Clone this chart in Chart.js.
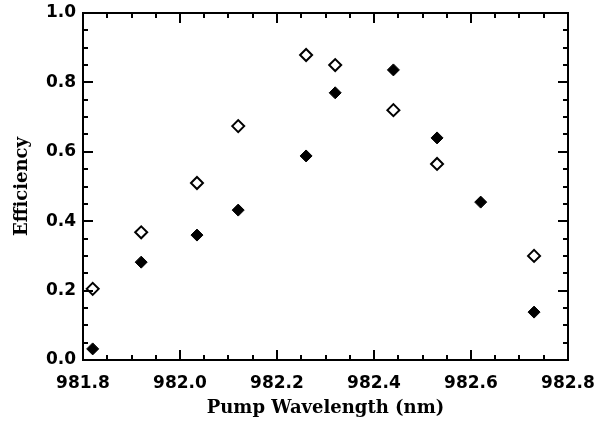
<!DOCTYPE html>
<html>
<head>
<meta charset="utf-8">
<script src="https://cdn.jsdelivr.net/npm/chart.js@4.4.1/dist/chart.umd.min.js"></script>
<style>
  html, body { margin: 0; padding: 0; background: #fff; }
  canvas { display: block; }
</style>
</head>
<body>
<canvas id="chart" width="602" height="422"></canvas>
<script>
// pump wavelength (nm) for each measurement
const wavelengths = [981.82, 981.92, 982.035, 982.12, 982.26, 982.32, 982.44, 982.53, 982.62, 982.73];
// open diamonds (none visible at 982.62)
const openEff = [0.205, 0.368, 0.51, 0.674, 0.879, 0.850, 0.720, 0.565, null, 0.300];
// filled diamonds
const filledEff = [0.032, 0.282, 0.36, 0.432, 0.588, 0.770, 0.836, 0.640, 0.455, 0.138];

const X_MIN = 981.8, X_MAX = 982.8;
const Y_MIN = 0, Y_MAX = 1.0;

const toPoints = (vals) => wavelengths.map((w, i) => ({ x: w, y: vals[i] }));

// IDL style frame: box on all four sides, ticks pointing inward
const frameTicks = {
  id: "frameTicks",
  afterDatasetsDraw(chart) {
    const { ctx, chartArea: a, scales: { x, y } } = chart;
    ctx.save();
    ctx.strokeStyle = "#000";
    ctx.lineWidth = 2;
    ctx.strokeRect(a.left, a.top, a.right - a.left, a.bottom - a.top);
    ctx.beginPath();
    for (let i = 0; i <= 20; i++) {
      const px = Math.round(x.getPixelForValue(X_MIN + i * 0.05));
      const len = i % 4 === 0 ? 10 : 5;
      ctx.moveTo(px, a.bottom); ctx.lineTo(px, a.bottom - len);
      ctx.moveTo(px, a.top); ctx.lineTo(px, a.top + len);
    }
    for (let i = 0; i <= 20; i++) {
      const py = Math.round(y.getPixelForValue(Y_MIN + i * 0.05));
      const len = i % 4 === 0 ? 10 : 5;
      ctx.moveTo(a.left, py); ctx.lineTo(a.left + len, py);
      ctx.moveTo(a.right, py); ctx.lineTo(a.right - len, py);
    }
    ctx.stroke();
    ctx.restore();
  },
};

const tickFont = { family: "DejaVu Sans", size: 17, weight: "bold" };
const titleFont = { family: "DejaVu Serif", size: 18, weight: "bold" };

new Chart(document.getElementById("chart"), {
  type: "scatter",
  data: {
    datasets: [
      {
        label: "open",
        data: toPoints(openEff),
        pointStyle: "rectRot",
        pointRadius: 6,
        pointBackgroundColor: "#fff",
        pointBorderColor: "#000",
        pointBorderWidth: 2,
      },
      {
        label: "filled",
        data: toPoints(filledEff),
        pointStyle: "rectRot",
        pointRadius: 6,
        pointBackgroundColor: "#000",
        pointBorderColor: "#000",
        pointBorderWidth: 1,
      },
    ],
  },
  options: {
    responsive: false,
    animation: false,
    clip: false,
    layout: { padding: { left: 0, top: 13, right: 34, bottom: 0 } },
    plugins: {
      legend: { display: false },
      tooltip: { enabled: false },
    },
    scales: {
      x: {
        type: "linear",
        min: X_MIN,
        max: X_MAX,
        grid: { display: false, drawTicks: false },
        border: { display: false },
        // fixed axis band; label overhang is handled by layout padding
        afterFit: (s) => { s.height = 62; s.paddingLeft = 0; s.paddingRight = 0; },
        ticks: {
          stepSize: 0.2,
          autoSkip: false,
          padding: 13,
          color: "#000",
          font: tickFont,
          callback: (v) => Number(v).toFixed(1),
        },
        title: {
          display: true,
          text: "Pump Wavelength (nm)",
          color: "#000",
          font: titleFont,
          padding: { top: 0, bottom: 3 },
        },
      },
      y: {
        min: Y_MIN,
        max: Y_MAX,
        grid: { display: false, drawTicks: false },
        border: { display: false },
        afterFit: (s) => { s.width = 83; s.paddingTop = 0; s.paddingBottom = 0; },
        ticks: {
          stepSize: 0.2,
          autoSkip: false,
          padding: 7,
          color: "#000",
          font: tickFont,
          callback: (v) => Number(v).toFixed(1),
        },
        title: {
          display: true,
          text: "Efficiency",
          color: "#000",
          font: titleFont,
          padding: { top: 12, bottom: 0 },
        },
      },
    },
  },
  plugins: [frameTicks],
});
</script>
</body>
</html>
